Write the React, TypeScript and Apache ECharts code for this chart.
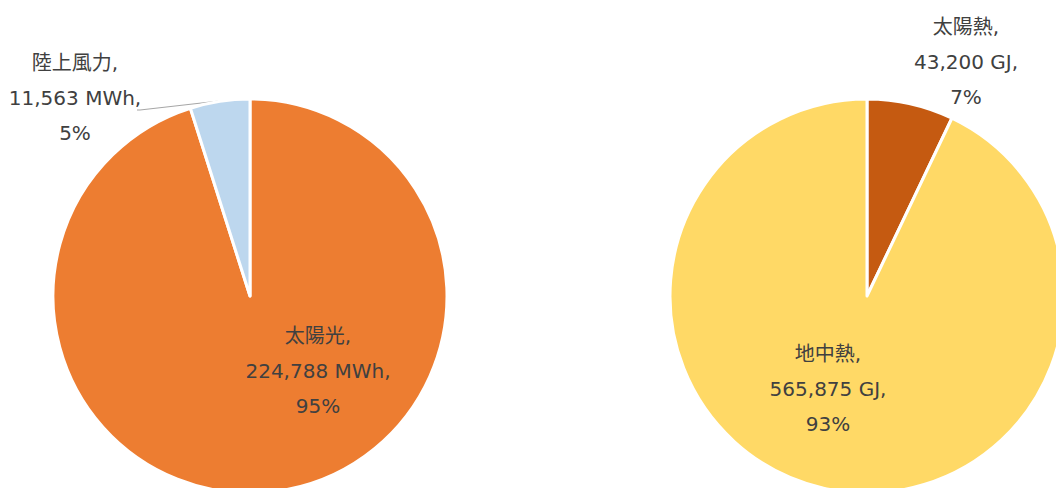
import React, { useEffect, useRef } from "react";
import * as echarts from "echarts";

const elecNames = ["太陽光", "陸上風力"];
const elecValues = [224788, 11563];
const elecUnit = "MWh";
const heatNames = ["太陽熱", "地中熱"];
const heatValues = [43200, 565875];
const heatUnit = "GJ";

const elecColors = ["#ED7D31", "#BDD7EE"];
const heatColors = ["#C55A11", "#FFD966"];

const elecLabelPos = [
  [318, 371],
  [75, 98],
];
const heatLabelPos = [
  [966, 62],
  [828, 389],
];

function fmt(n: number) {
  return n.toLocaleString("en-US");
}

export default function App() {
  const ref = useRef<HTMLDivElement>(null);
  useEffect(() => {
    document.body.style.margin = "0";
    const chart = echarts.init(ref.current!, null, { renderer: "svg" });
    const textStyle = {
      fontFamily: "'DejaVu Sans', 'Noto Sans CJK JP', sans-serif",
      fontSize: 20,
      lineHeight: 35,
      color: "#404040",
    };
    const makeSeries = (
      names: string[],
      values: number[],
      colors: string[],
      unit: string,
      center: [number, number],
      labelPos: number[][],
      withLine: number
    ) => {
      const total = values.reduce((a, b) => a + b, 0);
      return {
        type: "pie",
        center,
        radius: 197,
        startAngle: 90,
        clockwise: true,
        silent: true,
        itemStyle: { borderColor: "#ffffff", borderWidth: 3 },
        data: names.map((n, i) => ({
          name: n,
          value: values[i],
          itemStyle: { color: colors[i] },
          label: {
            show: true,
            position: i === withLine ? "outside" : "inside",
            formatter: () =>
              `${n},\n${fmt(values[i])} ${unit},\n${Math.round((values[i] / total) * 100)}%`,
            ...textStyle,
          },
          labelLine: {
            show: i === withLine,
            lineStyle: { color: "#A6A6A6", width: 1 },
          },
        })),
        labelLayout: (params: any) => {
          const p = labelPos[params.dataIndex];
          const out: any = {
            x: p[0],
            y: p[1],
            align: "center",
            verticalAlign: "middle",
          };
          if (params.dataIndex === withLine) {
            out.labelLinePoints = [
              [219, 101],
              [140, 110],
              [137, 110],
            ];
          }
          return out;
        },
      };
    };
    chart.setOption({
      animation: false,
      backgroundColor: "#ffffff",
      series: [
        makeSeries(elecNames, elecValues, elecColors, elecUnit, [250, 296], elecLabelPos, 1),
        makeSeries(heatNames, heatValues, heatColors, heatUnit, [867, 296], heatLabelPos, -1),
      ],
    });
    return () => chart.dispose();
  }, []);
  return <div ref={ref} style={{ width: 1056, height: 488 }} />;
}
